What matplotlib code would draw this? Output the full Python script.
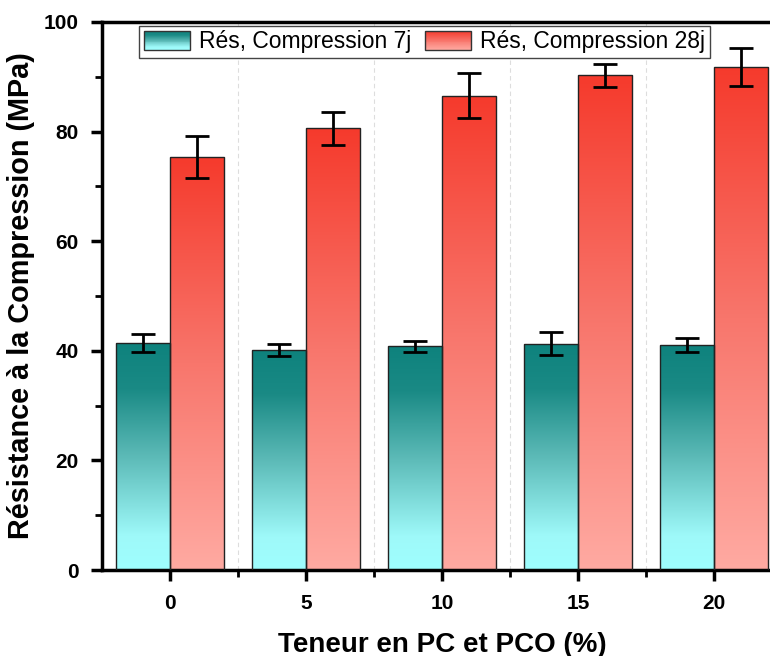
import numpy as np
import matplotlib
matplotlib.use("Agg")
import matplotlib.pyplot as plt
from matplotlib.colors import LinearSegmentedColormap
from matplotlib.patches import Rectangle
from matplotlib.legend_handler import HandlerBase
from matplotlib.ticker import MultipleLocator, FixedLocator

plt.rcParams['font.family'] = ['Liberation Sans', 'DejaVu Sans']

# donnees
teneur = ['0', '5', '10', '15', '20']
res_7j = [41.4, 40.1, 40.8, 41.3, 41.1]
err_7j = [1.6, 1.1, 1.05, 2.1, 1.3]
res_28j = [75.4, 80.6, 86.5, 90.3, 91.8]
err_28j = [3.85, 3.0, 4.1, 2.1, 3.4]
noms = ['Rés, Compression 7j', 'Rés, Compression 28j']

cmap_teal = LinearSegmentedColormap.from_list('teal', [
    (0.0, '#9ffefe'), (0.15, '#9ef9f9'), (0.5, '#5cbab7'),
    (0.8, '#1a8a85'), (1.0, '#0e827d')])
cmap_red = LinearSegmentedColormap.from_list('red', [
    (0.0, '#ffaaa2'), (0.5, '#f8766c'), (1.0, '#f53a2c')])


class GradHandler(HandlerBase):
    def __init__(self, cmap):
        super().__init__()
        self.cmap = cmap

    def create_artists(self, legend, orig_handle, xdescent, ydescent,
                       width, height, fontsize, trans):
        arts = []
        n = 20
        for i in range(n):
            r = Rectangle((-xdescent, -ydescent + height * i / n), width, height / n,
                          facecolor=self.cmap((i + 0.5) / n), edgecolor='none',
                          transform=trans)
            arts.append(r)
        arts.append(Rectangle((-xdescent, -ydescent), width, height, fill=False,
                              edgecolor='#333333', lw=1.0, transform=trans))
        return arts


def barres_degrade(ax, x, vals, cmap):
    bars = ax.bar(x, vals, width=0.4, facecolor='none', edgecolor='#222222',
                  linewidth=1.0, zorder=3)
    grad = np.linspace(1, 0, 256).reshape(-1, 1)
    for b in bars:
        x0, w, h = b.get_x(), b.get_width(), b.get_height()
        im = ax.imshow(grad, extent=[x0, x0 + w, 0, h], aspect='auto',
                       cmap=cmap, zorder=2, interpolation='bilinear')
        im.set_clip_path(b)
    return bars


fig = plt.figure(figsize=(7.7, 6.56), dpi=100)
ax = fig.add_axes([0.1325, 0.131, 0.8831, 0.8355])

x = np.arange(len(teneur))
barres_degrade(ax, x - 0.2, res_7j, cmap_teal)
barres_degrade(ax, x + 0.2, res_28j, cmap_red)
ax.errorbar(x - 0.2, res_7j, yerr=err_7j, fmt='none', ecolor='black',
            elinewidth=2, capsize=8.5, capthick=2, zorder=4)
ax.errorbar(x + 0.2, res_28j, yerr=err_28j, fmt='none', ecolor='black',
            elinewidth=2, capsize=8.5, capthick=2, zorder=4)

ax.set_xlim(-0.5, 4.5)
ax.set_ylim(0, 100)
ax.set_xticks(x)
ax.set_xticklabels(teneur)
ax.xaxis.set_minor_locator(FixedLocator(x[:-1] + 0.5))
ax.yaxis.set_major_locator(MultipleLocator(20))
ax.yaxis.set_minor_locator(MultipleLocator(10))
ax.grid(axis='x', which='minor', linestyle=(0, (4, 3)), color='#dddddd', lw=0.8, zorder=0)

for s in ax.spines.values():
    s.set_linewidth(2.5)
ax.tick_params(which='major', direction='out', length=8, width=2.5,
               labelsize=15, pad=9)
ax.tick_params(which='minor', direction='out', length=5, width=2)
for lab in ax.get_xticklabels() + ax.get_yticklabels():
    lab.set_fontweight('bold')

ax.set_xlabel('Teneur en PC et PCO (%)', fontsize=20, fontweight='bold', labelpad=14)
ax.set_ylabel('Résistance à la Compression (MPa)', fontsize=20.8, fontweight='bold', labelpad=6)

h1 = Rectangle((0, 0), 1, 1)
h2 = Rectangle((0, 0), 1, 1)
leg = ax.legend([h1, h2], noms, handler_map={h1: GradHandler(cmap_teal), h2: GradHandler(cmap_red)},
                ncol=2, loc='upper left', bbox_to_anchor=(0.055, 0.993), fontsize=16.5,
                frameon=True, fancybox=False, edgecolor='#444444', framealpha=1,
                handlelength=2.0, handleheight=0.95, handletextpad=0.4,
                columnspacing=0.6, borderpad=0.2, borderaxespad=0)
leg.get_frame().set_linewidth(1.0)

fig.savefig('out.png', dpi=100)
